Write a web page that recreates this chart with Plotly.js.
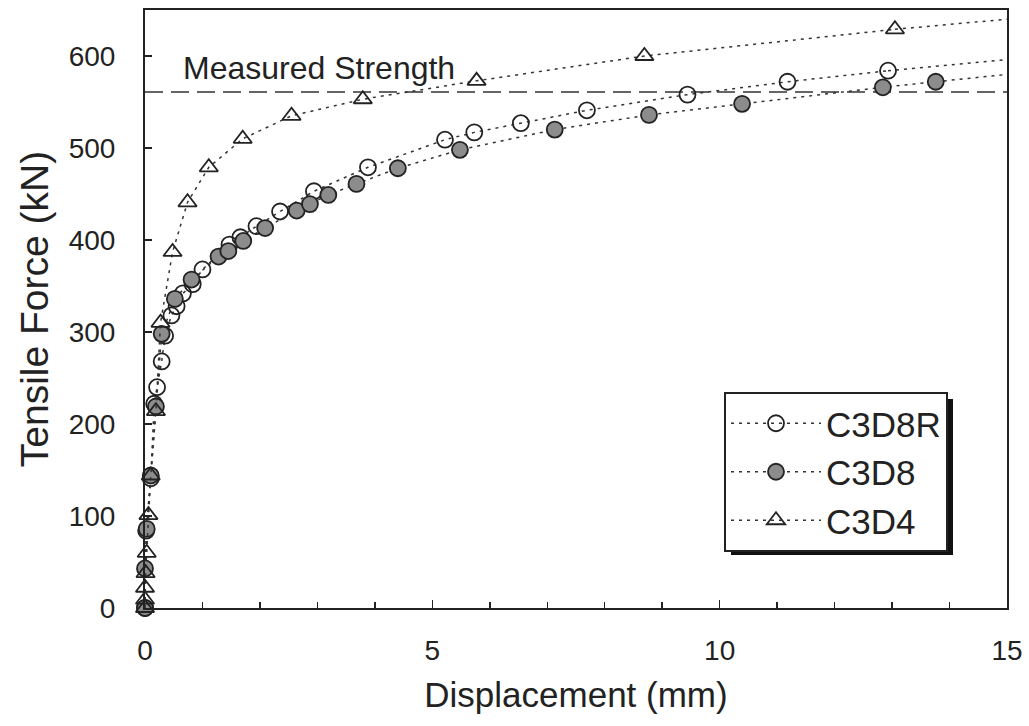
<!DOCTYPE html>
<html>
<head>
<meta charset="utf-8">
<script src="https://cdn.plot.ly/plotly-3.0.1.min.js"></script>
<style>
  html, body { margin: 0; padding: 0; background: #fff; }
  #chart { width: 1029px; height: 726px; }
</style>
</head>
<body>
<div id="chart"></div>
<script>
// ---- Data ----
const seriesNames = ["C3D8R", "C3D8", "C3D4"];

const c3d8rX = [0, 0.02, 0.10, 0.16, 0.21, 0.29, 0.35, 0.46, 0.55, 0.66, 0.83, 1.00, 1.47, 1.66, 1.94, 2.35, 2.94, 3.88, 5.22, 5.73, 6.54, 7.69, 9.44, 11.18, 12.93];
const c3d8rY = [0, 84, 141, 222, 240, 268, 296, 318, 328, 342, 352, 368, 395, 403, 415, 431, 453, 479, 509, 517, 527, 541, 558, 572, 584];
const c3d8rTailX = [12.93, 15];
const c3d8rTailY = [584, 596];

const c3d8X = [0, 0, 0.03, 0.10, 0.19, 0.29, 0.52, 0.81, 1.28, 1.45, 1.71, 2.09, 2.64, 2.87, 3.19, 3.68, 4.40, 5.48, 7.13, 8.77, 10.39, 12.84, 13.76];
const c3d8Y = [0, 43, 86, 144, 219, 298, 336, 357, 382, 388, 399, 413, 432, 439, 449, 461, 478, 498, 520, 536, 548, 566, 572];
const c3d8TailX = [13.76, 15];
const c3d8TailY = [572, 580];

const c3d4X = [0, 0, 0, 0.01, 0.03, 0.06, 0.10, 0.19, 0.27, 0.48, 0.74, 1.11, 1.70, 2.55, 3.79, 5.77, 8.69, 13.05];
const c3d4Y = [0, 9, 22, 38, 60, 101, 144, 214, 310, 387, 441, 479, 510, 535, 553, 573, 600, 629];
const c3d4TailX = [13.05, 15];
const c3d4TailY = [629, 640];

const measuredStrength = 561;
const measuredLabel = "Measured Strength";
const xTickVals = [0, 5, 10, 15];
const yTickVals = [0, 100, 200, 300, 400, 500, 600];

// ---- Styling ----
const FONT = "Liberation Sans, Arial, Helvetica, sans-serif";
const INK = "#222222";
const lineStyle = { color: "#333333", width: 1.5, dash: "3px,5px" };

function tail(x, y) {
  return { x: x, y: y, mode: "lines", line: lineStyle, showlegend: false, hoverinfo: "skip", cliponaxis: false };
}

const traces = [
  tail(c3d8rTailX, c3d8rTailY),
  tail(c3d8TailX, c3d8TailY),
  tail(c3d4TailX, c3d4TailY),
  {
    x: c3d8rX, y: c3d8rY, name: seriesNames[0], mode: "lines+markers", cliponaxis: false,
    line: lineStyle,
    marker: { symbol: "circle-open", size: 16, color: INK, line: { width: 1.8, color: INK } }
  },
  {
    x: c3d8X, y: c3d8Y, name: seriesNames[1], mode: "lines+markers", cliponaxis: false,
    line: lineStyle,
    marker: { symbol: "circle", size: 16, color: "#8c8c8c", line: { width: 1.8, color: INK } }
  },
  {
    x: c3d4X, y: c3d4Y, name: seriesNames[2], mode: "lines+markers", cliponaxis: false,
    line: lineStyle,
    marker: { symbol: "triangle-up-open", size: 16, color: INK, line: { width: 1.8, color: INK } }
  }
];

const L = 145, R = 22, T = 10, B = 118;
const W = 1029, H = 726;
const pw = W - L - R, ph = H - T - B;
function px2paperX(p) { return (p - L) / pw; }
function px2paperY(p) { return (H - B - p) / ph; }

const layout = {
  width: W, height: H,
  margin: { l: L, r: R, t: T, b: B },
  paper_bgcolor: "#ffffff",
  plot_bgcolor: "#ffffff",
  font: { family: FONT, color: INK, size: 28 },
  showlegend: true,
  legend: {
    x: px2paperX(724), y: px2paperY(392), xanchor: "left", yanchor: "top",
    bgcolor: "#ffffff", bordercolor: INK, borderwidth: 2,
    font: { family: FONT, size: 35, color: INK },
    itemwidth: 90,
    traceorder: "normal"
  },
  xaxis: {
    range: [0, 15], tickvals: xTickVals,
    ticks: "inside", ticklen: 8, tickwidth: 1.5, tickcolor: INK,
    minor: { dtick: 1, ticks: "inside", ticklen: 6, tickwidth: 1.5, tickcolor: INK },
    showline: true, linecolor: INK, linewidth: 2, mirror: true,
    showgrid: false, zeroline: false,
    tickfont: { family: FONT, size: 28, color: INK },
    ticklabelstandoff: 16,
    title: { text: "Displacement (mm)", font: { family: FONT, size: 35, color: INK }, standoff: 18 }
  },
  yaxis: {
    range: [0, 650], tickvals: yTickVals,
    ticks: "inside", ticklen: 7, tickwidth: 1.5, tickcolor: INK,
    showline: true, linecolor: INK, linewidth: 2, mirror: true,
    showgrid: false, zeroline: false,
    tickfont: { family: FONT, size: 28, color: INK },
    ticklabelstandoff: 22,
    title: { text: "Tensile Force (kN)", font: { family: FONT, size: 39, color: INK }, standoff: 8 }
  },
  shapes: [
    {
      type: "line", xref: "x", yref: "y", x0: 0, x1: 15, y0: measuredStrength, y1: measuredStrength,
      line: { color: "#333333", width: 1.5, dash: "18px,8px" }, layer: "below"
    },
    {
      type: "rect", xref: "paper", yref: "paper",
      x0: px2paperX(731), x1: px2paperX(953), y0: px2paperY(555), y1: px2paperY(399),
      fillcolor: "#111111", line: { width: 0 }, layer: "above"
    }
  ],
  annotations: [
    {
      text: measuredLabel, xref: "x", yref: "y", x: 0.62, y: 587,
      xanchor: "left", yanchor: "middle", showarrow: false,
      font: { family: FONT, size: 32, color: INK }
    }
  ]
};

Plotly.newPlot("chart", traces, layout, { staticPlot: true, displayModeBar: false });
</script>
</body>
</html>
